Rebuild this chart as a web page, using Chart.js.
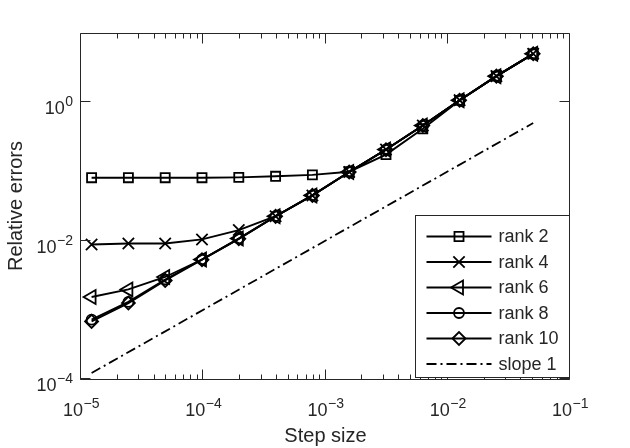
<!DOCTYPE html>
<html>
<head>
<meta charset="utf-8">
<script src="https://cdn.jsdelivr.net/npm/chart.js@4/dist/chart.umd.min.js"></script>
<style>
  html, body { margin: 0; padding: 0; background: #ffffff; }
  #wrap { width: 630px; height: 448px; }
</style>
</head>
<body>
<div id="wrap"><canvas id="c" width="630" height="448"></canvas></div>
<script>
// ---------------- data ----------------
const stepSizes = [1.220703125e-5, 2.44140625e-5, 4.8828125e-5, 9.765625e-5, 1.953125e-4,
                   3.90625e-4, 7.8125e-4, 1.5625e-3, 3.125e-3, 6.25e-3, 1.25e-2, 2.5e-2, 5e-2];
const rank2  = [0.081, 0.081, 0.081, 0.081, 0.082, 0.085, 0.089, 0.099, 0.175, 0.413, 1.06, 2.38, 5.0];
const rank4  = [0.0088, 0.0091, 0.0091, 0.0104, 0.0142, 0.0225, 0.0449, 0.098, 0.207, 0.46, 1.07, 2.38, 5.0];
const rank6  = [0.00153, 0.00197, 0.00298, 0.00533, 0.0107, 0.0225, 0.045, 0.098, 0.207, 0.46, 1.07, 2.38, 5.0];
const rank8  = [0.00072, 0.0013, 0.00274, 0.00533, 0.0107, 0.0225, 0.045, 0.098, 0.207, 0.46, 1.07, 2.38, 5.0];
const rank10 = [0.00068, 0.00125, 0.00265, 0.0053, 0.0106, 0.0224, 0.045, 0.098, 0.206, 0.46, 1.07, 2.38, 5.0];
const slopeX = [1.220703125e-5, 5e-2];
const slope1 = [1.220703125e-4, 5e-1];

const seriesLabels = ['rank 2', 'rank 4', 'rank 6', 'rank 8', 'rank 10', 'slope 1'];
const xTitle = 'Step size';
const yTitle = 'Relative errors';
const xTickValues = [1e-5, 1e-4, 1e-3, 1e-2, 1e-1];
const xTickExponents = ['\u22125', '\u22124', '\u22123', '\u22122', '\u22121'];
const yTickValues = [1e-4, 1e-2, 1e0];
const yTickExponents = ['\u22124', '\u22122', '0'];

// ---------------- styling ----------------
const FONT = '"Liberation Sans", Arial, Helvetica, sans-serif';
const AXC = '#262626';
Chart.defaults.font.family = FONT;
Chart.defaults.color = AXC;

function pts(xs, ys) { return xs.map((v, i) => ({ x: v, y: ys[i] })); }

const markerStyles = [
  { pointStyle: 'rect',     pointRadius: 6.4, rotation: 0 },
  { pointStyle: 'crossRot', pointRadius: 8,   rotation: 0 },
  { pointStyle: 'triangle', pointRadius: 8,   rotation: -90 },
  { pointStyle: 'circle',   pointRadius: 5,   rotation: 0 },
  { pointStyle: 'rectRot',  pointRadius: 6.5, rotation: 0 }
];
const seriesValues = [rank2, rank4, rank6, rank8, rank10];

const datasets = seriesValues.map((vals, i) => ({
  label: seriesLabels[i],
  data: pts(stepSizes, vals),
  showLine: true,
  borderColor: '#000000',
  borderWidth: 1.9,
  pointStyle: markerStyles[i].pointStyle,
  pointRadius: markerStyles[i].pointRadius,
  pointRotation: markerStyles[i].rotation,
  pointBorderWidth: 1.8,
  pointBorderColor: '#000000',
  pointBackgroundColor: 'rgba(0,0,0,0)',
  pointHoverRadius: markerStyles[i].pointRadius,
  fill: false,
  tension: 0,
  clip: false
}));
datasets.push({
  label: seriesLabels[5],
  data: pts(slopeX, slope1),
  showLine: true,
  borderColor: '#000000',
  borderWidth: 1.8,
  borderDash: [10, 4, 2, 4],
  pointRadius: 0,
  pointHoverRadius: 0,
  fill: false,
  tension: 0
});

// frame, inward ticks and superscript tick labels
const frameTicks = {
  id: 'frameTicks',
  afterDraw(chart) {
    const { ctx, chartArea: a, scales } = chart;
    const x = scales.x, y = scales.y;
    const L = a.left - 0.5, R = a.right - 0.5, T = a.top + 0.5, B = a.bottom + 0.5;
    ctx.save();
    ctx.strokeStyle = AXC;
    ctx.lineWidth = 1;
    ctx.beginPath();
    ctx.rect(L, T, R - L, B - T);
    for (let d = 0; d < xTickValues.length; d++) {
      const v = xTickValues[d];
      const px = Math.round(x.getPixelForValue(v)) - 0.5;
      ctx.moveTo(px, B); ctx.lineTo(px, B - 10);
      ctx.moveTo(px, T); ctx.lineTo(px, T + 10);
      if (d < xTickValues.length - 1) {
        for (let m = 2; m <= 9; m++) {
          const mx = Math.round(x.getPixelForValue(v * m)) - 0.5;
          ctx.moveTo(mx, B); ctx.lineTo(mx, B - 5);
          ctx.moveTo(mx, T); ctx.lineTo(mx, T + 5);
        }
      }
    }
    yTickValues.forEach(v => {
      const py = Math.round(y.getPixelForValue(v)) - 0.5;
      ctx.moveTo(L, py); ctx.lineTo(L + 10, py);
      ctx.moveTo(R, py); ctx.lineTo(R - 10, py);
    });
    ctx.stroke();

    const baseFont = '18px ' + FONT;
    const expFont = '14px ' + FONT;
    ctx.fillStyle = AXC;
    ctx.textBaseline = 'alphabetic';
    xTickValues.forEach((v, i) => {
      const px = x.getPixelForValue(v);
      ctx.font = baseFont; const wb = ctx.measureText('10').width;
      ctx.font = expFont; const we = ctx.measureText(xTickExponents[i]).width;
      const left = px - (wb + we) / 2;
      ctx.textAlign = 'left';
      ctx.font = baseFont; ctx.fillText('10', left, B + 36);
      ctx.font = expFont; ctx.fillText(xTickExponents[i], left + wb + 0.5, B + 28);
    });
    yTickValues.forEach((v, i) => {
      const py = y.getPixelForValue(v);
      const rightEdge = a.left - 8;
      ctx.font = expFont; const we = ctx.measureText(yTickExponents[i]).width;
      ctx.textAlign = 'right';
      ctx.fillText(yTickExponents[i], rightEdge, py + 4);
      ctx.font = baseFont; ctx.fillText('10', rightEdge - we - 0.5, py + 12);
    });
    ctx.restore();
  }
};

// legend inside the axes, lower right
const insideLegend = {
  id: 'insideLegend',
  afterDraw(chart) {
    const { ctx, chartArea: a } = chart;
    const bx = 415.5, by = 215.5;
    const bw = (a.right - 0.5) - bx, bh = (a.bottom - 1.5) - by;
    ctx.save();
    ctx.fillStyle = '#ffffff';
    ctx.fillRect(bx, by, bw, bh);
    ctx.strokeStyle = AXC;
    ctx.lineWidth = 1;
    ctx.strokeRect(bx, by, bw, bh);
    const rowH = 25.5;
    chart.data.datasets.forEach((ds, i) => {
      const ry = by + 21 + rowH * i;
      const x0 = bx + 11, x1 = bx + 76, xm = (x0 + x1) / 2;
      ctx.strokeStyle = '#000000';
      ctx.lineWidth = ds.borderWidth;
      ctx.setLineDash(ds.borderDash || []);
      ctx.beginPath(); ctx.moveTo(x0, ry); ctx.lineTo(x1, ry); ctx.stroke();
      ctx.setLineDash([]);
      if (ds.pointRadius > 0 && Chart.helpers && Chart.helpers.drawPoint) {
        ctx.fillStyle = 'rgba(0,0,0,0)';
        ctx.strokeStyle = '#000000';
        ctx.lineWidth = ds.pointBorderWidth;
        Chart.helpers.drawPoint(ctx, {
          pointStyle: ds.pointStyle, rotation: ds.pointRotation || 0,
          radius: ds.pointRadius, borderWidth: ds.pointBorderWidth
        }, xm, ry);
      }
      ctx.fillStyle = AXC;
      ctx.font = '18px ' + FONT;
      ctx.textAlign = 'left';
      ctx.textBaseline = 'middle';
      ctx.fillText(ds.label, bx + 83, ry + 1);
    });
    ctx.restore();
  }
};

new Chart(document.getElementById('c'), {
  type: 'scatter',
  data: { datasets },
  options: {
    responsive: false,
    devicePixelRatio: 1,
    animation: false,
    events: [],
    layout: { padding: { left: 0, right: 60, top: 33, bottom: 0 } },
    plugins: {
      legend: { display: false },
      tooltip: { enabled: false }
    },
    scales: {
      x: {
        type: 'logarithmic',
        position: 'bottom',
        min: 1e-5, max: 1e-1,
        grid: { display: false, drawTicks: false },
        border: { display: false },
        ticks: { display: false },
        afterBuildTicks: s => { s.ticks = xTickValues.map(v => ({ value: v })); },
        afterFit: s => { s.height = 69; },
        title: { display: true, text: xTitle, color: AXC,
                 font: { size: 20, family: FONT }, padding: { top: 0, bottom: 0 } }
      },
      y: {
        type: 'logarithmic',
        position: 'left',
        min: 1e-4, max: 1e1,
        grid: { display: false, drawTicks: false },
        border: { display: false },
        ticks: { display: false },
        afterBuildTicks: s => { s.ticks = yTickValues.map(v => ({ value: v })); },
        afterFit: s => { s.width = 81; },
        title: { display: true, text: yTitle, color: AXC,
                 font: { size: 20, family: FONT }, padding: { top: 4, bottom: 0 } }
      }
    }
  },
  plugins: [frameTicks, insideLegend]
});
</script>
</body>
</html>
